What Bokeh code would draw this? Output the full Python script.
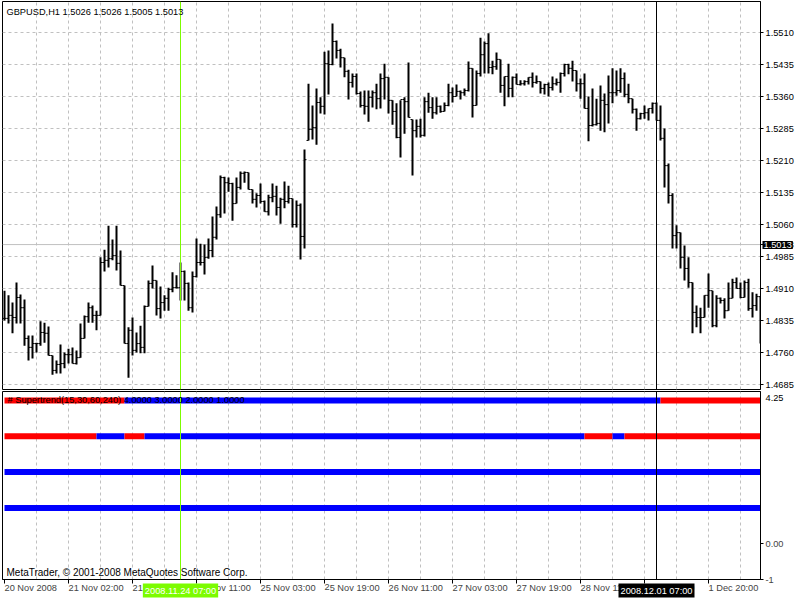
from bokeh.plotting import figure
from bokeh.models import Range1d, FixedTicker, PrintfTickFormatter, Span, Label, ColumnDataSource
from bokeh.layouts import column
from bokeh.embed import file_html
from bokeh.resources import INLINE

highs = [1.4905,1.4894,1.4877,1.4924,1.4896,1.4884,1.4800,1.4800,1.4783,1.4833,
1.4830,1.4821,1.4753,1.4741,1.4779,1.4760,1.4769,1.4772,1.4765,1.4828,
1.4847,1.4877,1.4870,1.4858,1.4983,1.5001,1.5057,1.5025,1.5057,1.4999,
1.4917,1.4819,1.4842,1.4807,1.4823,1.4870,1.4929,1.4964,1.4929,1.4915,
1.4894,1.4912,1.4948,1.4941,1.4971,1.4952,1.4924,1.4950,1.5027,1.5015,
1.5013,1.5027,1.5079,1.5102,1.5175,1.5172,1.5170,1.5158,1.5170,1.5184,
1.5184,1.5182,1.5142,1.5133,1.5156,1.5116,1.5130,1.5156,1.5151,1.5123,
1.5161,1.5151,1.5121,1.5116,1.5109,1.5236,1.5390,1.5339,1.5379,1.5358,
1.5465,1.5468,1.5531,1.5491,1.5472,1.5451,1.5423,1.5414,1.5414,1.5372,
1.5374,1.5374,1.5374,1.5390,1.5414,1.5437,1.5405,1.5351,1.5344,1.5351,
1.5358,1.5440,1.5306,1.5306,1.5308,1.5358,1.5369,1.5358,1.5358,1.5339,
1.5346,1.5390,1.5381,1.5388,1.5374,1.5379,1.5442,1.5426,1.5421,1.5498,
1.5489,1.5508,1.5444,1.5463,1.5447,1.5407,1.5437,1.5407,1.5414,1.5398,
1.5398,1.5405,1.5416,1.5409,1.5395,1.5390,1.5393,1.5407,1.5402,1.5416,
1.5437,1.5437,1.5444,1.5421,1.5402,1.5414,1.5360,1.5379,1.5355,1.5386,
1.5367,1.5409,1.5426,1.5421,1.5426,1.5416,1.5390,1.5355,1.5332,1.5322,
1.5339,1.5332,1.5346,1.5346,1.5339,1.5285,1.5203,1.5133,1.5058,1.5041,
1.5011,1.4983,1.4924,1.4870,1.4865,1.4894,1.4945,1.4905,1.4894,1.4889,
1.4887,1.4924,1.4933,1.4936,1.4924,1.4929,1.4933,1.4901,1.4898,1.4891]

lows = [1.4835,1.4828,1.4805,1.4828,1.4828,1.4776,1.4741,1.4746,1.4760,1.4776,
1.4783,1.4753,1.4708,1.4711,1.4711,1.4723,1.4734,1.4734,1.4732,1.4748,
1.4793,1.4830,1.4830,1.4812,1.4847,1.4950,1.4959,1.4976,1.4952,1.4917,
1.4781,1.4701,1.4753,1.4760,1.4758,1.4758,1.4868,1.4910,1.4847,1.4840,
1.4858,1.4858,1.4901,1.4910,1.4882,1.4882,1.4858,1.4854,1.4936,1.4964,
1.4943,1.4980,1.4983,1.5025,1.5076,1.5086,1.5137,1.5069,1.5109,1.5142,
1.5158,1.5142,1.5109,1.5100,1.5109,1.5090,1.5081,1.5112,1.5081,1.5062,
1.5098,1.5109,1.5053,1.5053,1.4978,1.5004,1.5257,1.5259,1.5247,1.5320,
1.5318,1.5365,1.5433,1.5449,1.5428,1.5405,1.5353,1.5381,1.5365,1.5334,
1.5318,1.5301,1.5334,1.5330,1.5332,1.5353,1.5320,1.5294,1.5262,1.5217,
1.5273,1.5311,1.5175,1.5264,1.5264,1.5266,1.5322,1.5308,1.5318,1.5322,
1.5325,1.5337,1.5346,1.5360,1.5353,1.5362,1.5372,1.5311,1.5339,1.5407,
1.5414,1.5414,1.5412,1.5423,1.5369,1.5337,1.5358,1.5358,1.5388,1.5386,
1.5386,1.5388,1.5381,1.5390,1.5367,1.5365,1.5360,1.5374,1.5386,1.5369,
1.5407,1.5412,1.5395,1.5372,1.5355,1.5332,1.5255,1.5290,1.5292,1.5280,
1.5276,1.5297,1.5344,1.5362,1.5369,1.5358,1.5344,1.5320,1.5280,1.5306,
1.5308,1.5304,1.5320,1.5304,1.5257,1.5147,1.5109,1.5004,1.5004,1.4957,
1.4929,1.4912,1.4805,1.4819,1.4805,1.4842,1.4865,1.4819,1.4819,1.4875,
1.4840,1.4858,1.4887,1.4910,1.4887,1.4889,1.4858,1.4842,1.4858,1.4781]

opens = [1.4840,1.4840,1.4847,1.4842,1.4889,1.4865,1.4793,1.4772,1.4781,1.4781,
1.4807,1.4805,1.4753,1.4718,1.4732,1.4734,1.4755,1.4755,1.4734,1.4748,
1.4793,1.4844,1.4865,1.4847,1.4847,1.4971,1.4976,1.4980,1.4987,1.4969,
1.4917,1.4781,1.4812,1.4765,1.4781,1.4772,1.4868,1.4922,1.4929,1.4863,
1.4877,1.4887,1.4908,1.4912,1.4912,1.4950,1.4922,1.4865,1.4938,1.4971,
1.4971,1.4983,1.4999,1.5030,1.5083,1.5170,1.5158,1.5156,1.5109,1.5147,
1.5180,1.5182,1.5142,1.5119,1.5128,1.5114,1.5090,1.5123,1.5126,1.5100,
1.5119,1.5114,1.5121,1.5060,1.5105,1.5032,1.5257,1.5283,1.5287,1.5346,
1.5337,1.5437,1.5435,1.5489,1.5468,1.5451,1.5419,1.5393,1.5407,1.5367,
1.5339,1.5337,1.5358,1.5369,1.5355,1.5402,1.5405,1.5351,1.5325,1.5264,
1.5353,1.5348,1.5306,1.5280,1.5290,1.5269,1.5348,1.5334,1.5322,1.5337,
1.5325,1.5339,1.5369,1.5360,1.5372,1.5369,1.5374,1.5426,1.5339,1.5414,
1.5458,1.5484,1.5428,1.5430,1.5447,1.5386,1.5407,1.5379,1.5405,1.5388,
1.5390,1.5395,1.5405,1.5393,1.5395,1.5379,1.5388,1.5381,1.5390,1.5393,
1.5414,1.5435,1.5426,1.5421,1.5390,1.5390,1.5332,1.5292,1.5294,1.5297,
1.5351,1.5341,1.5369,1.5369,1.5374,1.5402,1.5365,1.5355,1.5330,1.5308,
1.5320,1.5322,1.5332,1.5344,1.5304,1.5262,1.5198,1.5128,1.5034,1.5041,
1.4983,1.4957,1.4924,1.4854,1.4842,1.4842,1.4894,1.4905,1.4823,1.4887,
1.4882,1.4858,1.4887,1.4924,1.4910,1.4889,1.4924,1.4863,1.4870,1.4891]

closes = [1.4840,1.4847,1.4842,1.4889,1.4865,1.4793,1.4772,1.4781,1.4781,1.4807,
1.4805,1.4753,1.4718,1.4732,1.4734,1.4755,1.4755,1.4734,1.4748,1.4793,
1.4844,1.4865,1.4847,1.4847,1.4971,1.4976,1.4980,1.4987,1.4969,1.4917,
1.4781,1.4812,1.4765,1.4781,1.4772,1.4868,1.4922,1.4929,1.4863,1.4877,
1.4887,1.4908,1.4912,1.4912,1.4950,1.4922,1.4865,1.4938,1.4971,1.4971,
1.4983,1.4999,1.5030,1.5083,1.5170,1.5158,1.5156,1.5109,1.5147,1.5180,
1.5182,1.5142,1.5119,1.5128,1.5114,1.5090,1.5123,1.5126,1.5100,1.5119,
1.5114,1.5121,1.5060,1.5105,1.5032,1.5212,1.5283,1.5287,1.5346,1.5337,
1.5437,1.5435,1.5489,1.5468,1.5451,1.5419,1.5393,1.5407,1.5367,1.5339,
1.5337,1.5358,1.5369,1.5355,1.5402,1.5405,1.5351,1.5325,1.5264,1.5353,
1.5348,1.5311,1.5280,1.5290,1.5269,1.5348,1.5334,1.5322,1.5337,1.5325,
1.5339,1.5369,1.5360,1.5372,1.5369,1.5374,1.5426,1.5339,1.5414,1.5458,
1.5484,1.5428,1.5430,1.5447,1.5386,1.5407,1.5379,1.5405,1.5388,1.5390,
1.5395,1.5405,1.5393,1.5395,1.5379,1.5388,1.5381,1.5390,1.5393,1.5414,
1.5435,1.5426,1.5421,1.5390,1.5390,1.5332,1.5292,1.5294,1.5297,1.5351,
1.5341,1.5369,1.5369,1.5374,1.5402,1.5365,1.5355,1.5330,1.5308,1.5320,
1.5322,1.5332,1.5344,1.5304,1.5262,1.5198,1.5128,1.5034,1.5041,1.4983,
1.4957,1.4924,1.4854,1.4842,1.4842,1.4894,1.4905,1.4823,1.4887,1.4882,
1.4858,1.4887,1.4924,1.4910,1.4889,1.4924,1.4863,1.4870,1.4891,1.4800]

price_ticks = [1.4685, 1.4760, 1.4835, 1.4910, 1.4985, 1.5060, 1.5135, 1.5210, 1.5285, 1.5360, 1.5435, 1.5510]
bid_price = 1.5013
price_lo, price_hi = 1.46733, 1.55827

time_ticks = [0, 16, 32, 48, 64, 80, 96, 112, 128, 144, 160, 176]
time_labels = ["20 Nov 2008", "21 Nov 02:00", "21 Nov 18:00", "24 Nov 11:00", "25 Nov 03:00",
               "25 Nov 19:00", "26 Nov 11:00", "27 Nov 03:00", "27 Nov 19:00", "28 Nov 11:00",
               "1 Dec 04:00", "1 Dec 20:00"]
grid_every = 8
green_bar, green_label = 44, "2008.11.24 07:00"
cross_bar, cross_label = 163, "2008.12.01 07:00"

# supertrend levels and trend change points (bar index, +1 up/blue, -1 down/red)
st_levels = [4.0, 3.0, 2.0, 1.0]
st_changes = {
    4.0: [(0, -1), (30, 1), (164, -1)],
    3.0: [(0, -1), (23, 1), (30, -1), (35, 1), (145, -1), (152, 1), (155, -1)],
    2.0: [(0, 1)],
    1.0: [(0, 1)],
}
ind_max = 4.25
ind_ticks = [0.0, -1.0]
ind_labels = {0.0: "0.00", -1.0: "-1"}

n = len(highs)
FONT = "Liberation Sans"
FS = "9.25px"
GRID = "#C0C0C0"
GREEN = "#7CFC00"
W = 800
LB, RB = 2, 40
H1, H2, HB, OV = 390, 215, 18, 5
TICK_OUT, STANDOFF = 3, 2

xr = Range1d(-0.5, n - 1.0)


def overlay(height, top, flow_pos, x_range):
    """Transparent strip laid over an earlier part of the column (for tags)."""
    f = figure(width=W, height=height, x_range=x_range, y_range=Range1d(0, 1),
               output_backend="svg", toolbar_location=None, x_axis_location=None,
               y_axis_location=None, min_border_left=LB, min_border_right=RB,
               min_border_top=0, min_border_bottom=0,
               margin=(top - flow_pos, 0, flow_pos - top - height, 0))
    f.grid.visible = False
    f.outline_line_color = None
    f.background_fill_alpha = 0
    f.border_fill_alpha = 0
    return f


# ---------------- main price pane ----------------
p1 = figure(width=W, height=H1, x_range=xr, y_range=Range1d(price_lo, price_hi),
            output_backend="svg", toolbar_location=None, x_axis_location=None,
            y_axis_location="right", min_border_left=LB, min_border_right=RB,
            min_border_top=1, min_border_bottom=1)
p1.outline_line_color = "black"
ax = p1.yaxis[0]
ax.ticker = FixedTicker(ticks=sorted(price_ticks + [bid_price]))
ax.formatter = PrintfTickFormatter(format="%.4f")
ax.major_tick_in = 0
ax.major_tick_out = TICK_OUT
ax.minor_tick_out = 0
ax.minor_tick_in = 0
ax.major_label_standoff = STANDOFF
ax.major_label_text_font = FONT
ax.major_label_text_font_size = FS
ax.major_label_text_color = "black"
ax.axis_line_color = "black"
p1.xgrid[0].ticker = FixedTicker(ticks=list(range(grid_every, n, grid_every)))
p1.ygrid[0].ticker = FixedTicker(ticks=price_ticks)
for g in (p1.xgrid[0], p1.ygrid[0]):
    g.grid_line_color = GRID
    g.grid_line_dash = "3 3"

p1.add_layout(Span(location=bid_price, dimension="width", line_color="#C0C0C0",
                   line_width=1, level="underlay"))

idx = list(range(n))
src = ColumnDataSource(dict(
    x=idx, hi=highs, lo=lows, op=opens, cl=closes,
    xl=[i - 0.5 for i in idx], xr=[i + 0.5 for i in idx]))
p1.segment(x0="xl", y0="op", x1="x", y1="op", source=src, line_color="black", line_width=1)
p1.segment(x0="x", y0="cl", x1="xr", y1="cl", source=src, line_color="black", line_width=1)
p1.segment(x0="x", y0="lo", x1="x", y1="hi", source=src, line_color="black", line_width=2)

p1.add_layout(Span(location=green_bar, dimension="height", line_color=GREEN, line_width=1))
p1.add_layout(Span(location=cross_bar, dimension="height", line_color="black", line_width=1))

p1.add_layout(Label(x=0.5, y=1.5559, text="GBPUSD,H1  1.5026 1.5026 1.5005 1.5013",
                    text_font=FONT, text_font_size=FS, text_baseline="middle",
                    text_color="black"))

# bid price tag on the price scale
tag_h = 13
bid_y = 1 + (price_hi - bid_price) / (price_hi - price_lo) * (H1 - 2)
p4 = overlay(tag_h, int(round(bid_y - tag_h / 2)), H1, xr)
p4.add_layout(Label(x=n - 0.5, y=0.5, text="1.5013", text_font=FONT, text_font_size=FS,
                    text_baseline="middle", text_align="left", text_color="white",
                    background_fill_color="black", padding=1), "right")

# ---------------- indicator pane ----------------
p2 = figure(width=W, height=H2, x_range=xr, y_range=Range1d(-1.0, ind_max),
            output_backend="svg", toolbar_location=None, x_axis_location="below",
            y_axis_location="right", min_border_left=LB, min_border_right=RB,
            min_border_top=OV + 1, min_border_bottom=HB, margin=(-OV, 0, 0, 0))
p2.outline_line_color = "black"
p2.border_fill_alpha = 0
ay = p2.yaxis[0]
ay.ticker = FixedTicker(ticks=ind_ticks)
ay.major_label_overrides = ind_labels
ay.major_tick_in = 0
ay.major_tick_out = TICK_OUT
ay.minor_tick_out = 0
ay.major_label_standoff = STANDOFF
ay.major_label_text_font = FONT
ay.major_label_text_font_size = FS
ay.axis_line_color = "black"
axx = p2.xaxis[0]
axx.ticker = FixedTicker(ticks=time_ticks)
axx.major_label_overrides = {t: l for t, l in zip(time_ticks, time_labels)}
axx.major_label_orientation = -0.0001
axx.major_tick_in = 0
axx.major_tick_out = 4
axx.minor_tick_out = 0
axx.major_label_standoff = 4
axx.major_label_text_font = FONT
axx.major_label_text_font_size = FS
axx.axis_line_color = "black"
p2.ygrid[0].visible = False
p2.xgrid[0].ticker = FixedTicker(ticks=list(range(grid_every, n, grid_every)))
p2.xgrid[0].grid_line_color = GRID
p2.xgrid[0].grid_line_dash = "3 3"

# one continuous stroke per run of equal trend
x0s, x1s, ys, cols = [], [], [], []
for lev in st_levels:
    ch = st_changes[lev]
    for k, (b, v) in enumerate(ch):
        e = ch[k + 1][0] if k + 1 < len(ch) else n - 1
        x0s.append(b)
        x1s.append(e)
        ys.append(lev)
        cols.append("#0000FF" if v > 0 else "#FF0000")
p2.segment(x0=x0s, y0=ys, x1=x1s, y1=ys, line_color=cols, line_width=6, line_cap="butt")

p2.add_layout(Span(location=green_bar, dimension="height", line_color=GREEN, line_width=1))
p2.add_layout(Span(location=cross_bar, dimension="height", line_color="black", line_width=1))

p2.add_layout(Label(x=0.75, y=4.0, text="# Supertrend(15,30,60,240) 4.0000 3.0000 2.0000 1.0000",
                    text_font=FONT, text_font_size=FS, text_baseline="middle", text_color="black"))
p2.add_layout(Label(x=0.5, y=-0.81, text="MetaTrader, \u00a9 2001-2008 MetaQuotes Software Corp.",
                    text_font=FONT, text_font_size="10px", text_baseline="middle", text_color="black"))

flow_end = H1 - OV + H2

# scale maximum written just inside the top of the indicator scale
p5 = overlay(13, H1 + 1, flow_end, xr)
p5.add_layout(Label(x=(n - 1.0) + (TICK_OUT + STANDOFF) / 4.0, y=0.5, text="%.2f" % ind_max,
                    text_font=FONT, text_font_size=FS, text_baseline="middle",
                    text_align="left", text_color="black"), "right")

# highlighted date tags on the time scale
p3 = overlay(HB, flow_end - HB, flow_end, xr)
for bx, txt, bg in ((green_bar, green_label, GREEN), (cross_bar, cross_label, "black")):
    p3.add_layout(Label(x=bx, y=0.55, text=txt, text_font=FONT, text_font_size=FS,
                        text_baseline="middle", text_align="center", text_color="white",
                        background_fill_color=bg, padding=2))

layout = column(p1, p4, p2, p5, p3, spacing=0)
open("out.html", "w").write(file_html(layout, INLINE))
